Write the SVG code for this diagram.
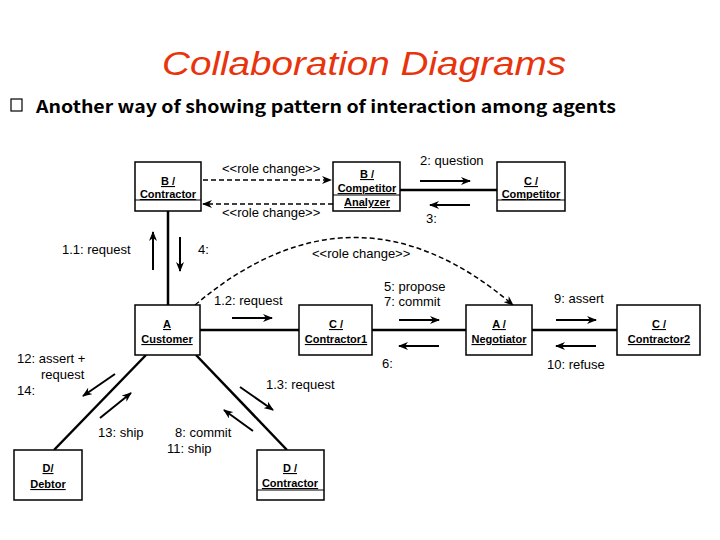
<svg xmlns="http://www.w3.org/2000/svg" width="720" height="540" viewBox="0 0 720 540">
<style>
.box{fill:#fff;stroke:#000;stroke-width:1.5}
.sep{stroke:#000;stroke-width:1}
.n{font-family:"Liberation Sans",Arial,sans-serif;font-size:11px;font-weight:bold;text-anchor:middle;text-decoration:underline}
.l{font-family:"Liberation Sans",Arial,sans-serif;font-size:13px}
.link{stroke:#000;stroke-width:2.5;fill:none}
.dash{stroke:#000;stroke-width:1.5;fill:none;stroke-dasharray:5,3}
.msg{stroke:#000;stroke-width:2;fill:none;marker-end:url(#ah)}
</style>
<defs>
<marker id="ah" markerWidth="10" markerHeight="8" refX="9" refY="4" orient="auto" markerUnits="userSpaceOnUse"><path d="M0,0 L10,4 L0,8 L3,4 z" fill="#000"/></marker>
</defs>
<rect width="720" height="540" fill="#fff"/>
<text x="162" y="75" font-family="Liberation Sans,Arial,sans-serif" font-size="34" font-style="italic" fill="#e8340c" textLength="404" lengthAdjust="spacingAndGlyphs">Collaboration Diagrams</text>
<rect x="11" y="99" width="11" height="12" fill="none" stroke="#000" stroke-width="1.2"/>
<text x="36" y="113" font-family="'Noto Sans CJK JP','DejaVu Sans Mono',monospace" font-size="17" font-weight="bold" textLength="580" lengthAdjust="spacingAndGlyphs">Another way of showing pattern of interaction among agents</text>

<g id="connectors">
<line class="link" x1="168" y1="211" x2="168" y2="305"/>
<line class="link" x1="200" y1="330" x2="299" y2="330"/>
<line class="link" x1="372" y1="330" x2="466" y2="330"/>
<line class="link" x1="532" y1="330" x2="617" y2="330"/>
<line class="link" x1="400" y1="190" x2="497" y2="190"/>
<line class="link" x1="146" y1="355" x2="54" y2="450"/>
<line class="link" x1="196" y1="355" x2="287" y2="450"/>
<line class="dash" x1="203" y1="180" x2="331" y2="180" marker-end="url(#ah)"/>
<line class="dash" x1="333" y1="204" x2="203" y2="204" marker-end="url(#ah)"/>
<path class="dash" d="M195,305 Q355,170 513,305" marker-end="url(#ah)"/>
<line class="msg" x1="420" y1="181" x2="470" y2="181"/>
<line class="msg" x1="470" y1="205" x2="430" y2="205"/>
<line class="msg" x1="153" y1="270" x2="153" y2="232"/>
<line class="msg" x1="180" y1="237" x2="180" y2="271"/>
<line class="msg" x1="232" y1="318" x2="272" y2="318"/>
<line class="msg" x1="399" y1="320" x2="439" y2="320"/>
<line class="msg" x1="439" y1="346" x2="399" y2="346"/>
<line class="msg" x1="556" y1="320" x2="596" y2="320"/>
<line class="msg" x1="596" y1="346" x2="556" y2="346"/>
<line class="msg" x1="115" y1="374" x2="83" y2="396"/>
<line class="msg" x1="100" y1="418" x2="131" y2="393"/>
<line class="msg" x1="240" y1="387" x2="273" y2="410"/>
<line class="msg" x1="253" y1="431" x2="224" y2="410"/>
</g>

<g id="n-bcontractor"><rect class="box" x="135" y="162" width="66" height="49"/><line class="sep" x1="135" y1="200" x2="201" y2="200"/><text class="n" x="168" y="185">B /</text><text class="n" x="168" y="198">Contractor</text></g>
<g id="n-banalyzer"><rect class="box" x="333" y="162" width="67" height="49"/><line class="sep" x1="333" y1="195" x2="400" y2="195"/><text class="n" x="367" y="178">B /</text><text class="n" x="367" y="192">Competitor</text><text class="n" x="367" y="206">Analyzer</text></g>
<g id="n-ccompetitor"><rect class="box" x="497" y="162" width="68" height="49"/><line class="sep" x1="497" y1="200" x2="565" y2="200"/><text class="n" x="531" y="185">C /</text><text class="n" x="531" y="198">Competitor</text></g>
<g id="n-customer"><rect class="box" x="135" y="305" width="65" height="50"/><text class="n" x="167" y="328">A</text><text class="n" x="167" y="343">Customer</text></g>
<g id="n-contractor1"><rect class="box" x="299" y="305" width="73" height="50"/><text class="n" x="336" y="328">C /</text><text class="n" x="336" y="343">Contractor1</text></g>
<g id="n-negotiator"><rect class="box" x="466" y="305" width="66" height="50"/><text class="n" x="499" y="328">A /</text><text class="n" x="499" y="343">Negotiator</text></g>
<g id="n-contractor2"><rect class="box" x="617" y="305" width="83" height="50"/><text class="n" x="659" y="328">C /</text><text class="n" x="659" y="343">Contractor2</text></g>
<g id="n-debtor"><rect class="box" x="14" y="450" width="68" height="50"/><text class="n" x="48" y="472">D/</text><text class="n" x="48" y="488">Debtor</text></g>
<g id="n-dcontractor"><rect class="box" x="257" y="450" width="67" height="50"/><line class="sep" x1="257" y1="490" x2="324" y2="490"/><text class="n" x="290" y="472">D /</text><text class="n" x="290" y="487">Contractor</text></g>

<g id="labels" class="l">
<text class="l" x="222" y="173" font-size="11">&lt;&lt;role change&gt;&gt;</text>
<text class="l" x="222" y="217" font-size="11">&lt;&lt;role change&gt;&gt;</text>
<text class="l" x="312" y="258" font-size="11">&lt;&lt;role change&gt;&gt;</text>
<text class="l" x="420" y="165">2: question</text>
<text class="l" x="426" y="223">3:</text>
<text class="l" x="62" y="254">1.1:  request</text>
<text class="l" x="198" y="254">4:</text>
<text class="l" x="214" y="305">1.2:  request</text>
<text class="l" x="384" y="291">5: propose</text>
<text class="l" x="384" y="306">7: commit</text>
<text class="l" x="382" y="368">6:</text>
<text class="l" x="554" y="303">9: assert</text>
<text class="l" x="547" y="369">10: refuse</text>
<text class="l" x="17" y="363">12: assert +</text>
<text class="l" x="41" y="379">request</text>
<text class="l" x="17" y="395">14:</text>
<text class="l" x="266" y="389">1.3:  request</text>
<text class="l" x="98" y="437">13: ship</text>
<text class="l" x="175" y="437">8: commit</text>
<text class="l" x="167" y="453">11: ship</text>
</g>
</svg>
